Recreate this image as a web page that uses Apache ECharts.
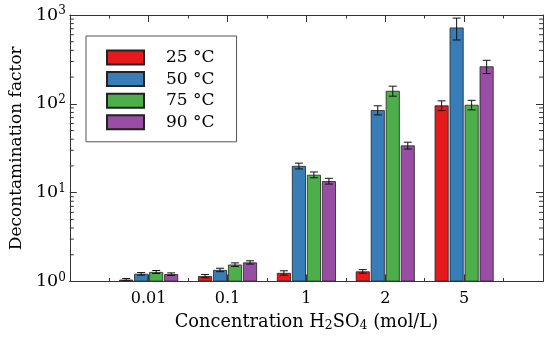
<!DOCTYPE html>
<html>
<head>
<meta charset="utf-8">
<script src="https://cdn.jsdelivr.net/npm/echarts@6/dist/echarts.min.js"></script>
<style>html,body{margin:0;padding:0;background:#fff;}#c{width:550px;height:339px;}</style>
</head>
<body>
<div id="c"></div>
<script>
// ---- data ----
var categories = ['0.01', '0.1', '1', '2', '5'];
var temps = ['25 °C', '50 °C', '75 °C', '90 °C'];
var df25 = [1.05, 1.15, 1.25, 1.30, 96];
var df50 = [1.22, 1.35, 20, 85, 723];
var df75 = [1.28, 1.55, 15.9, 140, 97.5];
var df90 = [1.21, 1.64, 13.5, 34, 264];
var err25 = [0.03, 0.05, 0.07, 0.06, 12];
var err50 = [0.04, 0.06, 1.5, 10, 200];
var err75 = [0.05, 0.07, 1.2, 18, 12];
var err90 = [0.04, 0.07, 1.0, 3, 45];
var yDecades = [1, 10, 100];
var minorMultipliers = [2, 3, 4, 5, 6, 7, 8, 9];

// ---- style ----
var colors = ['#e41a1c', '#377eb8', '#4daf4a', '#984ea3'];
var FONT = 'DejaVu Serif';
var AX = '#333';
var BAR_W = 14, BAR_GAP = 1, CAP = 4;
var X_MIN = -1, X_MAX = 5;

var values = [df25, df50, df75, df90];
var errs = [err25, err50, err75, err90];

var minorTicks = [];
yDecades.forEach(function (d) { minorMultipliers.forEach(function (m) { minorTicks.push([0, d * m]); }); });

var chart = echarts.init(document.getElementById('c'), null, {renderer: 'canvas'});

var series = [];
values.forEach(function (arr, j) {
  series.push({
    name: temps[j], type: 'bar', xAxisIndex: 0, yAxisIndex: 0,
    barWidth: BAR_W, barGap: (BAR_GAP / BAR_W * 100) + '%',
    itemStyle: {color: colors[j], borderColor: '#222', borderWidth: 0.8},
    data: arr.map(function (v, i) { return [i, v]; }),
    z: 2
  });
});
values.forEach(function (arr, j) {
  var off = (j - 1.5) * (BAR_W + BAR_GAP);
  series.push({
    type: 'custom', xAxisIndex: 0, yAxisIndex: 0, z: 4, silent: true,
    encode: {x: 0, y: 1},
    data: arr.map(function (v, i) { return [i, v, errs[j][i]]; }),
    renderItem: function (params, api) {
      var x = api.value(0), v = api.value(1), e = api.value(2);
      var top = api.coord([x, v + e]);
      var bot = api.coord([x, v - e]);
      var cx = top[0] + off;
      var st = {stroke: '#111', lineWidth: 1};
      return {type: 'group', children: [
        {type: 'line', shape: {x1: cx, y1: top[1], x2: cx, y2: bot[1]}, style: st},
        {type: 'line', shape: {x1: cx - CAP, y1: top[1], x2: cx + CAP, y2: top[1]}, style: st},
        {type: 'line', shape: {x1: cx - CAP, y1: bot[1], x2: cx + CAP, y2: bot[1]}, style: st}
      ]};
    }
  });
});
// minor log ticks (left and right)
series.push({
  type: 'custom', xAxisIndex: 0, yAxisIndex: 0, z: 5, silent: true,
  encode: {x: 0, y: 1},
  data: minorTicks,
  renderItem: function (params, api) {
    var v = api.value(1);
    var l = api.coord([X_MIN, v]);
    var r = api.coord([X_MAX, v]);
    var st = {stroke: AX, lineWidth: 1};
    return {type: 'group', children: [
      {type: 'line', shape: {x1: l[0], y1: l[1], x2: l[0] + 4, y2: l[1]}, style: st},
      {type: 'line', shape: {x1: r[0], y1: r[1], x2: r[0] - 4, y2: r[1]}, style: st}
    ]};
  }
});

var xBase = {
  type: 'value', min: X_MIN, max: X_MAX, interval: 1, z: 6,
  axisLine: {show: true, onZero: false, lineStyle: {color: AX, width: 1}},
  axisTick: {show: true, inside: true, length: 7, lineStyle: {color: AX}},
  minorTick: {show: true, splitNumber: 2, length: 3.5, lineStyle: {color: AX}},
  splitLine: {show: false}
};
var yBase = {
  type: 'log', logBase: 10, min: 1, max: 1000, z: 6,
  axisLine: {show: true, onZero: false, lineStyle: {color: AX, width: 1}},
  axisTick: {show: true, inside: true, length: 7, lineStyle: {color: AX}},
  splitLine: {show: false}
};

chart.setOption({
  animation: false,
  backgroundColor: '#fff',
  grid: {left: 64, right: 7, top: 15, bottom: 57.5, containLabel: false},
  legend: {
    orient: 'vertical', left: 86, top: 36,
    data: temps,
    itemWidth: 37, itemHeight: 14, itemGap: 4.6,
    padding: [13, 22, 11, 20],
    borderColor: '#555', borderWidth: 1, borderRadius: 0,
    textStyle: {fontFamily: FONT, fontSize: 17, color: '#000', lineHeight: 14, padding: [0, 0, 0, 17]},
    icon: 'rect'
  },
  xAxis: [
    Object.assign({}, xBase, {
      position: 'bottom',
      axisLabel: {show: true, margin: 9, fontFamily: FONT, fontSize: 16, color: '#000',
        formatter: function (v) { return categories[v] !== undefined ? categories[v] : ''; }},
      name: 'Concentration H{sub|2}SO{sub|4} (mol/L)',
      nameLocation: 'middle', nameGap: 30,
      nameTextStyle: {fontFamily: FONT, fontSize: 17.8, color: '#000',
        rich: {sub: {fontFamily: FONT, fontSize: 12.5, color: '#000', verticalAlign: 'bottom', padding: [8, 0, 0, 0]}}}
    }),
    Object.assign({}, xBase, {position: 'top', axisLabel: {show: false}})
  ],
  yAxis: [
    Object.assign({}, yBase, {
      position: 'left',
      axisLabel: {show: true, margin: 4, fontFamily: FONT, color: '#000',
        formatter: function (v) { return '{b|10}{s|' + Math.round(Math.log10(v)) + '}'; },
        rich: {
          b: {fontFamily: FONT, fontSize: 17.5, color: '#000'},
          s: {fontFamily: FONT, fontSize: 12, color: '#000', verticalAlign: 'top', padding: [0, 0, 8, 0]}
        }},
      name: 'Decontamination factor', nameLocation: 'middle', nameGap: 44,
      nameTextStyle: {fontFamily: FONT, fontSize: 17, color: '#000'}
    }),
    Object.assign({}, yBase, {position: 'right', axisLabel: {show: false}})
  ],
  series: series
});
</script>
</body>
</html>
